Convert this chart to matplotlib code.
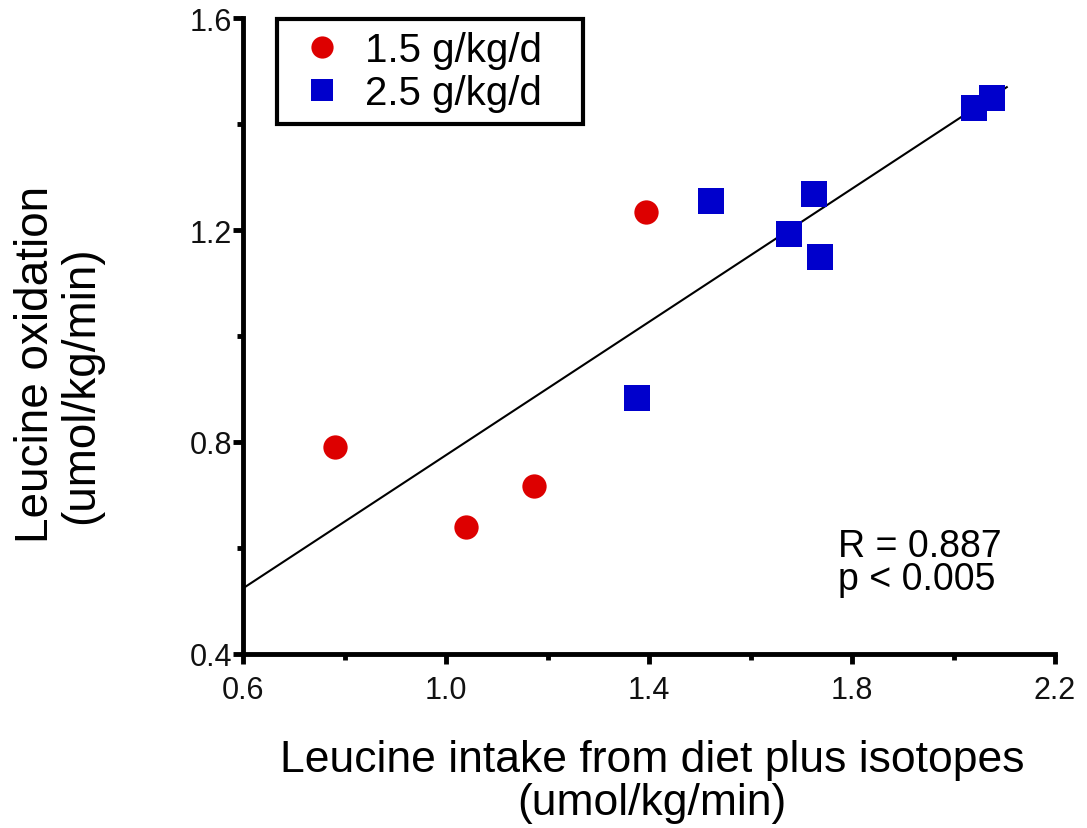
import numpy as np
import matplotlib
matplotlib.use("Agg")
import matplotlib.pyplot as plt
from matplotlib.ticker import MultipleLocator

# Leucine intake vs oxidation, two protein-intake groups
low_x = [0.781, 1.039, 1.173, 1.394]
low_y = [0.791, 0.640, 0.717, 1.234]
high_x = [1.522, 1.376, 1.676, 1.725, 1.737, 2.040, 2.076]
high_y = [1.255, 0.883, 1.192, 1.268, 1.149, 1.430, 1.449]
low_label = "1.5 g/kg/d"
high_label = "2.5 g/kg/d"
stats_lines = ["R = 0.887", "p < 0.005"]
x_ticks = [0.6, 1.0, 1.4, 1.8, 2.2]
y_ticks = [0.4, 0.8, 1.2, 1.6]
fit_range = [0.6, 2.105]
xlabel_text = "Leucine intake from diet plus isotopes\n(umol/kg/min)"
ylabel_lines = ["Leucine oxidation", "(umol/kg/min)"]

plt.rcParams['font.family'] = ['Liberation Sans', 'DejaVu Sans']

W, H = 1087, 829
fig = plt.figure(figsize=(W / 100, H / 100), dpi=100)
ax = fig.add_axes([243 / W, 1 - 655 / H, 812 / W, 636 / H])

# least-squares fit through all points
all_x = np.array(low_x + high_x)
all_y = np.array(low_y + high_y)
slope, intercept = np.polyfit(all_x, all_y, 1)
fx = np.array(fit_range)
ax.plot(fx, slope * fx + intercept, color='black', lw=1.5, zorder=2)

ax.plot(low_x, low_y, 'o', color='#DD0000', markersize=17.5, markeredgewidth=0,
        label=low_label, zorder=3)
ax.plot(high_x, high_y, 's', color='#0000CC', markersize=19, markeredgewidth=0,
        label=high_label, zorder=3)

ax.set_xlim(0.6, 2.2)
ax.set_ylim(0.4, 1.6)
ax.set_xticks(x_ticks)
ax.set_yticks(y_ticks)
ax.xaxis.set_minor_locator(MultipleLocator(0.2))
ax.yaxis.set_minor_locator(MultipleLocator(0.2))
ax.set_xticklabels([f"{v:.1f}" for v in x_ticks])
ax.set_yticklabels([f"{v:.1f}" for v in y_ticks])

for side in ('top', 'right'):
    ax.spines[side].set_visible(False)
for side in ('left', 'bottom'):
    ax.spines[side].set_linewidth(3.5)
ax.tick_params(which='major', length=7, width=3.5, direction='out',
               labelsize=22, colors='black', labelcolor='#111111')
ax.tick_params(axis='x', which='major', pad=8)
ax.tick_params(axis='y', which='major', pad=1)
ax.tick_params(which='minor', length=4, width=3.5, direction='out')

leg = ax.legend(loc='upper left', bbox_to_anchor=(34 / 812, 0.5, 306 / 812, 0.4985),
                mode='expand', fontsize=29, frameon=True, fancybox=False,
                framealpha=1, borderpad=0.3, handletextpad=0.25,
                labelspacing=0.12, handlelength=1.64, borderaxespad=0)
leg.get_frame().set_edgecolor('black')
leg.get_frame().set_linewidth(3)
for h in leg.legend_handles:
    h.set_markersize(16)

for i, line in enumerate(stats_lines):
    fig.text(838 / W, 1 - (557 + 33 * i) / H, line, fontsize=27, va='baseline')

# axis titles
fig.text(652 / W, 1 - 782 / H, xlabel_text, ha='center', va='center',
         multialignment='center', fontsize=32, linespacing=1.08)
for line, xpx, ypx in zip(ylabel_lines, [36, 81], [364, 385]):
    fig.text(xpx / W, 1 - ypx / H, line, ha='center', va='center',
             rotation=90, fontsize=33)

fig.savefig("out.png", dpi=100)
